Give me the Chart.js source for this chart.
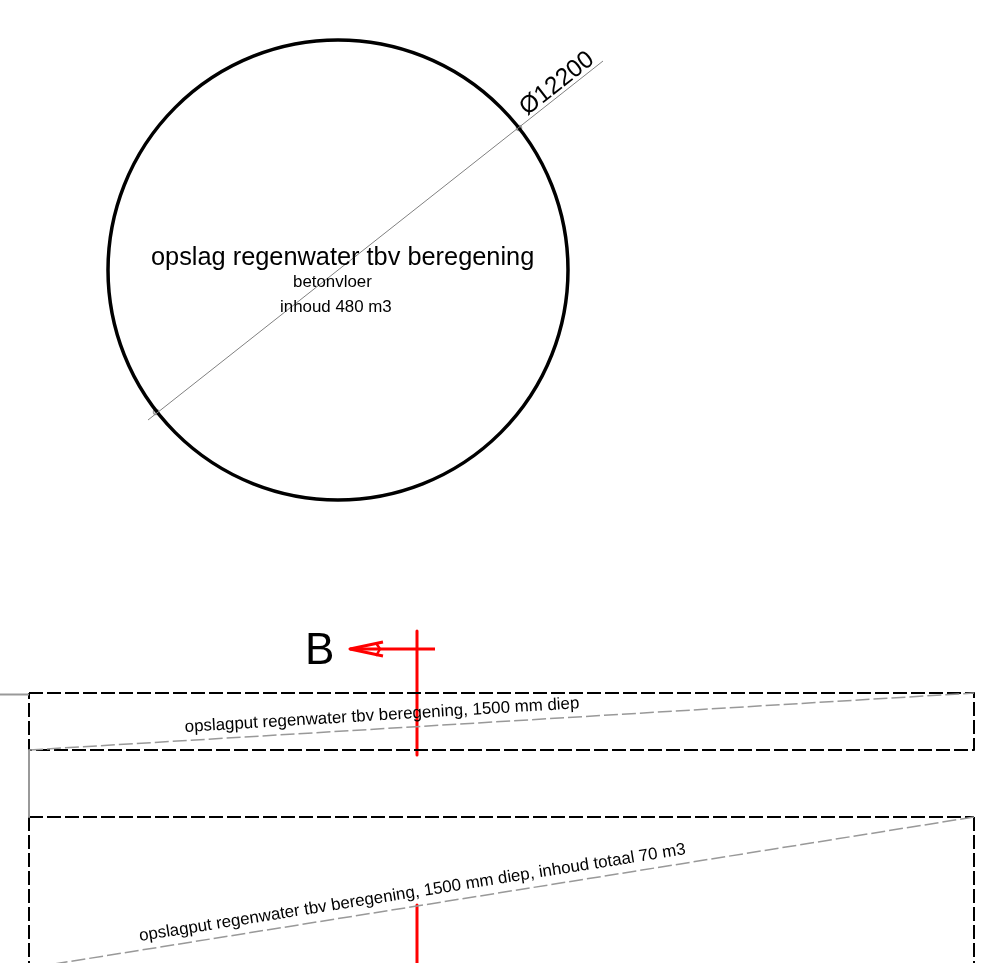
<!DOCTYPE html>
<html lang="nl">
<head>
  <meta charset="UTF-8" />
  <title>Opslag regenwater</title>
  <script src="https://cdn.jsdelivr.net/npm/chart.js"></script>
  <style>
    html, body { margin: 0; padding: 0; background: #fff; }
    canvas { display: block; }
  </style>
</head>
<body>
  <canvas id="drawing" width="984" height="963"></canvas>

  <script>
    // drawing values, in sheet units (1 unit = 1 px of the sheet)
    const sheetWidth = 984;
    const sheetHeight = 963;

    const tankCentre = [{ x: 338, y: 270 }];
    const tankRadius = 230;
    const dimensionLine = [{ x: 148, y: 420 }, { x: 603, y: 61 }];
    const dimensionTicks = [{ x: 519, y: 128 }, { x: 156, y: 412 }];

    const upperPit = [{ x: 29, y: 693 }, { x: 974, y: 693 }, { x: 974, y: 750 }, { x: 29, y: 750 }, { x: 29, y: 693 }];
    const lowerPitTop = [{ x: 29, y: 817 }, { x: 974, y: 817 }];
    const lowerPitLeft = [{ x: 29, y: 817 }, { x: 29, y: 963 }];
    const lowerPitRight = [{ x: 974, y: 817 }, { x: 974, y: 963 }];
    const upperDiagonal = [{ x: 29, y: 750 }, { x: 974, y: 693 }];
    const lowerDiagonal = [{ x: 974, y: 817 }, { x: 29, y: 968 }];

    const boundaryTop = [{ x: 0, y: 694.5 }, { x: 29, y: 694.5 }];
    const boundaryLeft = [{ x: 29, y: 750 }, { x: 29, y: 817 }];

    const sectionUpper = [{ x: 417, y: 631 }, { x: 417, y: 755 }];
    const sectionLower = [{ x: 417, y: 905 }, { x: 417, y: 963 }];
    const sectionArm = [{ x: 435, y: 649 }, { x: 350, y: 649 }];
    const sectionHead = [{ x: 383, y: 642 }, { x: 350, y: 649 }, { x: 383, y: 656 }];
    const sectionHeadBack = [{ x: 376, y: 643 }, { x: 380, y: 649 }, { x: 376, y: 656 }];

    const labelTexts = [
      "opslag regenwater tbv beregening",
      "betonvloer",
      "inhoud 480 m3",
      "Ø12200",
      "B",
      "opslagput regenwater tbv beregening, 1500 mm diep",
      "opslagput regenwater tbv beregening, 1500 mm diep, inhoud totaal 70 m3"
    ];
    const labelAnchors = [
      { x: 151, y: 265 },
      { x: 293, y: 287 },
      { x: 280, y: 312 },
      { x: 527, y: 116 },
      { x: 305, y: 664 },
      { x: 185, y: 732 },
      { x: 140, y: 941 }
    ];

    const lineSet = (data, color, width, dash) => ({
      data: data,
      showLine: true,
      borderColor: color,
      borderWidth: width,
      borderDash: dash || [],
      borderJoinStyle: "round",
      pointRadius: 0,
      fill: false,
      tension: 0
    });

    const labelStyles = [
      { font: "25.35px", angle: 0 },
      { font: "16.9px", angle: 0 },
      { font: "16.9px", angle: 0 },
      { font: "24.5px", angle: -38.2 },
      { font: "44px", angle: 0 },
      { font: "16.9px", angle: -3.45 },
      { font: "16.9px", angle: -9.05 }
    ];

    // text goes on through the scales, same as the lines
    const sheetLabels = {
      id: "sheetLabels",
      afterDatasetsDraw(chart) {
        const { ctx, scales } = chart;
        labelTexts.forEach((text, i) => {
          ctx.save();
          ctx.translate(scales.x.getPixelForValue(labelAnchors[i].x), scales.y.getPixelForValue(labelAnchors[i].y));
          ctx.rotate(labelStyles[i].angle * Math.PI / 180);
          ctx.font = labelStyles[i].font + " 'Liberation Sans', Arial, sans-serif";
          ctx.fillStyle = "#000";
          ctx.textBaseline = "alphabetic";
          ctx.fillText(text, 0, 0);
          ctx.restore();
        });
      }
    };

    new Chart(document.getElementById("drawing"), {
      type: "scatter",
      data: {
        datasets: [
          lineSet(boundaryTop, "#999999", 2),
          lineSet(boundaryLeft, "#999999", 2),
          lineSet(dimensionLine, "#808080", 1),
          lineSet(upperDiagonal, "#999999", 1.5, [14, 4]),
          lineSet(lowerDiagonal, "#999999", 1.5, [14, 4]),
          lineSet(upperPit, "#000", 2, [14, 4]),
          lineSet(lowerPitTop, "#000", 2, [14, 4]),
          lineSet(lowerPitLeft, "#000", 2, [14, 4]),
          lineSet(lowerPitRight, "#000", 2, [14, 4]),
          {
            data: tankCentre,
            pointRadius: tankRadius,
            pointBackgroundColor: "transparent",
            pointBorderColor: "#000",
            pointBorderWidth: 3.5
          },
          {
            data: dimensionTicks,
            pointRadius: 2.5,
            pointBackgroundColor: "transparent",
            pointBorderColor: "#a0a0a0",
            pointBorderWidth: 1.5
          },
          lineSet(sectionUpper, "#ff0000", 3),
          lineSet(sectionLower, "#ff0000", 3),
          lineSet(sectionArm, "#ff0000", 3),
          lineSet(sectionHead, "#ff0000", 3),
          lineSet(sectionHeadBack, "#ff0000", 2.5)
        ]
      },
      options: {
        responsive: false,
        animation: false,
        devicePixelRatio: 1,
        layout: { padding: 0, autoPadding: false },
        clip: false,
        plugins: { legend: { display: false }, tooltip: { enabled: false } },
        scales: {
          x: { type: "linear", min: 0, max: sheetWidth, display: false },
          y: { type: "linear", min: 0, max: sheetHeight, reverse: true, display: false }
        }
      },
      plugins: [sheetLabels]
    });
  </script>
</body>
</html>
